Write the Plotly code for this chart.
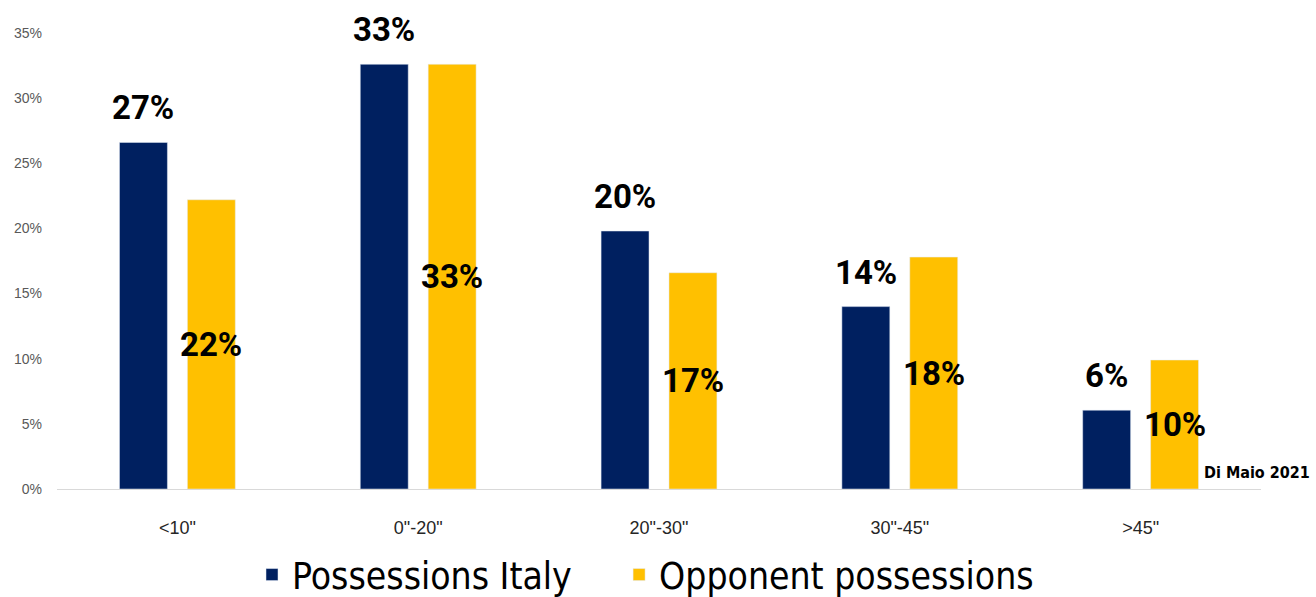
import plotly.graph_objects as go

categories = ['<10"', '0"-20"', '20"-30"', '30"-45"', '>45"']
italy = [0.266, 0.326, 0.198, 0.140, 0.0605]
opponent = [0.222, 0.326, 0.166, 0.178, 0.099]
y_ticks = [0, 0.05, 0.10, 0.15, 0.20, 0.25, 0.30, 0.35]
series_names = ["Possessions Italy", "Opponent possessions"]

NAVY = "#002060"
GOLD = "#FFC000"
LABEL_FONT = dict(family="Roboto, DejaVu Sans Condensed, sans-serif",
                  size=33, color="#000000")

W, H = 1316, 597
ML, MR, MT, MB = 57, 55, 33, 108
plot_w = W - ML - MR
plot_h = H - MT - MB

# extra spacing after the first legend entry
PAD = "\u00a0" * 4

fig = go.Figure()
fig.add_trace(go.Bar(name=series_names[0] + PAD, x=categories, y=italy,
                     marker_color=NAVY, hoverinfo="skip"))
fig.add_trace(go.Bar(name=series_names[1], x=categories, y=opponent,
                     marker_color=GOLD, hoverinfo="skip"))

annotations = []
for cat, v in zip(categories, italy):
    annotations.append(dict(x=cat, y=v, xref="x", yref="y", text=f"<b>{v:.0%}</b>",
                            showarrow=False, xshift=-34, yshift=13,
                            yanchor="bottom", font=LABEL_FONT))
for cat, v in zip(categories, opponent):
    annotations.append(dict(x=cat, y=v / 2, xref="x", yref="y", text=f"<b>{v:.0%}</b>",
                            showarrow=False, xshift=34, yanchor="middle",
                            font=LABEL_FONT))
annotations.append(dict(x=(1312 - ML) / plot_w, y=(H - MB - 472) / plot_h,
                        xref="paper", yref="paper", text="<b>Di Maio 2021</b>",
                        showarrow=False, xanchor="right", yanchor="middle",
                        font=dict(family="DejaVu Sans Condensed, sans-serif",
                                  size=16, color="#000000")))

fig.update_layout(
    width=W, height=H,
    margin=dict(l=ML, r=MR, t=MT, b=MB, autoexpand=False),
    paper_bgcolor="white", plot_bgcolor="white",
    barmode="group", bargap=0.436, bargroupgap=0.294,
    showlegend=True,
    legend=dict(orientation="h", x=(252 - ML) / plot_w, xanchor="left",
                yref="container", y=(H - 575) / H, yanchor="middle",
                font=dict(family="DejaVu Sans Condensed, sans-serif",
                          size=37, color="#000000"),
                tracegroupgap=0),
    annotations=annotations,
    xaxis=dict(showline=True, linecolor="#D9D9D9", linewidth=1, ticks="",
               ticklabelstandoff=22, automargin=False,
               tickfont=dict(family="Liberation Sans, Arial, sans-serif", size=18, color="#262626"),
               showgrid=False),
    yaxis=dict(range=[0, 0.35], tickvals=y_ticks, tickformat=".0%", showgrid=False,
               zeroline=False, showline=False, ticks="", ticklabelstandoff=14, automargin=False,
               tickfont=dict(family="Liberation Sans, Arial, sans-serif", size=14, color="#595959")),
)

fig.write_html("out.html")
